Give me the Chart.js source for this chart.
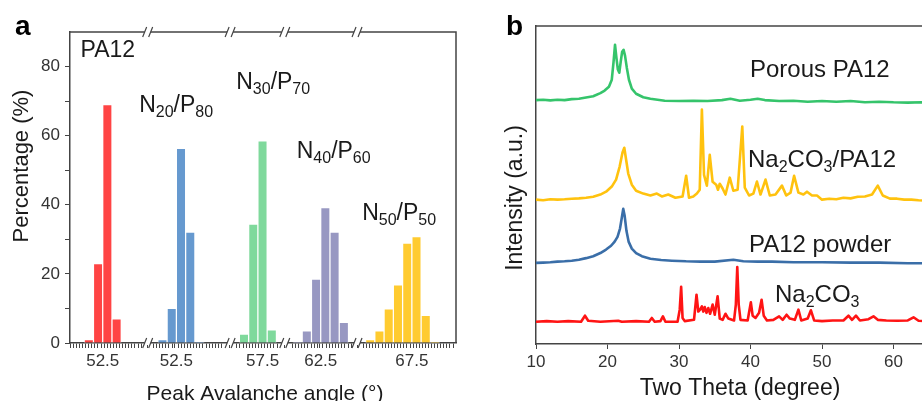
<!DOCTYPE html>
<html>
<head>
<meta charset="utf-8">
<script src="https://cdn.jsdelivr.net/npm/chart.js@4.4.0/dist/chart.umd.min.js"></script>
<style>
  html, body { margin: 0; padding: 0; background: #fff; overflow: hidden; width: 922px; height: 401px; }
  body { position: relative; }
  canvas { position: absolute; top: 0; }
  #chartA { left: 0; }
  #chartB { left: 470px; }
</style>
</head>
<body>
<canvas id="chartA" width="470" height="401"></canvas>
<canvas id="chartB" width="560" height="401"></canvas>
<script>
const FONT = "'Liberation Sans', Arial, sans-serif";
const AXIS = "#444";

// ---------- panel a : peak avalanche angle histograms ----------
const sampleLabels = ["PA12", "N_20/P_80", "N_30/P_70", "N_40/P_60", "N_50/P_50"];
const angPA12 = [51, 52, 53, 54];
const pctPA12 = [1, 23, 69, 7];
const angN20 = [51, 52, 53, 54, 55];
const pctN20 = [1, 10, 56.3, 32.1, 0.3];
const angN30 = [55.5, 56.5, 57.5, 58.5];
const pctN30 = [2.6, 34.4, 58.5, 3.8];
const angN40 = [60, 61, 62, 63, 64, 65];
const pctN40 = [0.3, 3.5, 18.5, 39.2, 32.1, 6];
const angN50 = [63, 64, 65, 66, 67, 68, 69, 70];
const pctN50 = [1, 3.5, 9.9, 16.8, 28.9, 30.8, 8, 0.3];
const tickAngles = [52.5, 52.5, 57.5, 62.5, 67.5];
const tickLabels = ["52.5", "52.5", "57.5", "62.5", "67.5"];

// ---------- panel b : XRD patterns ----------
const porousTheta = [10, 11, 12, 13, 14, 15, 16, 17, 18, 19, 19.6, 20.2, 20.6, 20.85, 21.05, 21.25, 21.45, 21.65, 21.85, 22.05, 22.25, 22.45, 22.7, 23, 23.4, 24, 25, 26, 27, 28, 30, 32, 34, 36, 37.2, 38.5, 40, 41, 42, 44, 46, 48, 50, 52, 54, 56, 58, 60, 62, 64, 66, 68, 70];
const porousInt = [76.7, 76.8, 76.6, 76.8, 76.7, 77.0, 77.1, 77.5, 77.9, 78.9, 79.7, 80.9, 83.1, 88.8, 94.1, 90.0, 86.3, 85.3, 88.8, 91.9, 92.5, 90.7, 86.9, 83.1, 80.3, 78.7, 77.6, 77.1, 76.8, 76.5, 76.4, 76.5, 76.4, 76.7, 77.1, 76.5, 76.8, 77.1, 76.7, 76.4, 76.5, 76.2, 76.4, 76.2, 76.4, 76.0, 76.2, 76.0, 75.9, 76.0, 75.9, 76.0, 75.9];

const compTheta = [10, 11, 12, 13, 14, 15, 16, 17, 18, 19, 19.8, 20.6, 21.2, 21.7, 22.1, 22.35, 22.6, 22.9, 23.4, 24, 25, 26, 26.9, 27.6, 28.5, 29.5, 30.5, 31, 31.4, 32, 32.5, 32.9, 33.2, 33.5, 33.9, 34.3, 34.7, 35.2, 35.45, 35.7, 36.1, 36.5, 37.1, 37.6, 38.2, 38.85, 39.2, 39.8, 40.4, 40.9, 41.4, 42.1, 42.7, 43.5, 44.4, 45, 45.6, 46.1, 46.7, 47.4, 47.9, 48.6, 49.3, 50, 51, 52, 53, 54, 55, 56, 57, 57.8, 58.5, 59.5, 60.5, 61.5, 62.5, 63.5, 65, 67, 70];
const compInt = [45.4, 45.2, 45.5, 45.4, 45.5, 45.7, 45.8, 46.0, 46.3, 47.0, 47.9, 49.5, 51.7, 55.8, 60.2, 61.7, 58.0, 53.6, 50.1, 48.2, 47.3, 46.7, 47.3, 46.4, 47.0, 46.0, 46.4, 52.9, 46.0, 46.4, 47.3, 48.5, 73.7, 53.2, 49.8, 59.5, 51.0, 50.1, 48.5, 50.4, 48.9, 47.0, 52.3, 48.2, 48.5, 68.4, 49.2, 46.7, 47.3, 51.1, 47.0, 51.7, 46.7, 47.0, 49.8, 46.7, 47.6, 52.9, 47.6, 47.0, 47.9, 46.7, 46.7, 45.4, 45.7, 45.5, 46.0, 45.8, 46.3, 46.4, 47.0, 49.8, 46.7, 45.7, 45.7, 45.4, 45.4, 45.2, 45.1, 45.1, 45.1];

const powderTheta = [10, 11, 12, 13, 14, 15, 16, 17, 18, 19, 19.8, 20.5, 21, 21.4, 21.75, 22, 22.2, 22.4, 22.65, 22.95, 23.4, 24, 24.8, 26, 27.5, 29, 31, 33, 35, 37.6, 39, 41, 43, 46, 50, 54, 58, 62, 66, 70];
const powderInt = [25.5, 25.6, 25.7, 25.9, 26.0, 26.2, 26.5, 27.0, 27.6, 28.6, 29.7, 30.9, 32.2, 33.7, 36.3, 39.7, 42.5, 40.3, 35.6, 32.2, 30.0, 28.6, 27.6, 26.8, 26.4, 26.2, 26.0, 25.9, 25.9, 26.5, 26.0, 25.9, 25.9, 25.7, 25.7, 25.6, 25.6, 25.4, 25.4, 25.4];

const carbTheta = [10, 11.5, 13, 14.5, 16.3, 16.85, 17.3, 19, 21.5, 22, 24, 25.8, 26.2, 26.6, 27.4, 27.75, 28.1, 29.8, 30.1, 30.3, 30.5, 30.8, 32.1, 32.45, 32.7, 32.95, 33.2, 33.4, 33.6, 33.85, 34.1, 34.35, 34.7, 35, 35.4, 35.7, 36.1, 36.5, 36.9, 37.7, 37.95, 38.15, 38.35, 38.6, 39.6, 40.05, 40.3, 40.7, 41.2, 41.55, 41.85, 42.3, 43.2, 44, 44.5, 45.05, 45.5, 46.2, 46.7, 47.1, 48, 48.45, 48.9, 50, 51.5, 53, 53.7, 54.2, 54.75, 55.3, 56.5, 57.2, 57.8, 59, 60.5, 62, 62.8, 63.5, 65, 67, 70];
const carbInt = [7.0, 7.2, 7.0, 7.2, 7.0, 8.9, 7.3, 7.0, 7.3, 7.0, 7.2, 7.0, 8.2, 7.0, 7.2, 8.7, 7.0, 7.0, 10.8, 18.0, 8.2, 7.2, 7.6, 15.5, 10.2, 10.8, 11.8, 10.2, 11.6, 9.8, 11.3, 9.5, 12.4, 9.2, 15.0, 8.0, 7.6, 9.5, 8.0, 7.4, 12.4, 24.2, 12.4, 7.6, 7.4, 13.1, 8.9, 8.2, 9.8, 13.9, 8.9, 7.4, 7.6, 8.7, 7.6, 9.2, 8.0, 7.6, 10.8, 7.4, 8.0, 10.6, 7.4, 7.2, 7.4, 7.4, 8.9, 7.6, 8.9, 7.4, 7.8, 8.7, 7.6, 7.4, 7.3, 7.4, 8.4, 7.3, 7.2, 7.2, 7.2];

const xrdNames = ["Porous PA12", "Na_2CO_3/PA12", "PA12 powder", "Na_2CO_3"];

// ---------- layout / style ----------
const A_XMAX = 41.3;                         // broken axis, in bin units
const A_BIN_PX = 386 / A_XMAX;
const groupShift = [-49.15, -41.2, -36.9, -35.62, -30.78];
const breakAt = [8.2, 17.1, 23.0, 30.8];
const MINOR = 1 / 3;
const barColors = ["#ff4444", "#6699cf", "#7fd99c", "#9898c2", "#ffcb30"];
const lineColors = ["#35c46b", "#ffc20e", "#3a6ea8", "#ff1414"];

const groupAngles = [angPA12, angN20, angN30, angN40, angN50];
const groupPcts = [pctPA12, pctN20, pctN30, pctN40, pctN50];
const majorU = tickAngles.map((a, i) => a + groupShift[i]);

// label anchors (left, baseline) in data units
const notesA = [[0.96, 82.7], [7.28, 66.8], [17.76, 73.5], [24.29, 53.5], [31.35, 35.6]];
const notesB = [[39.93, 83.9], [39.65, 55.75], [39.79, 29.0], [43.43, 13.2]];

function drawRich(ctx, str, x, y, size, subSize) {
  const parts = str.split(/(_\d+)/).filter(s => s.length);
  let cx = x;
  ctx.fillStyle = "#1a1a1a";
  ctx.textAlign = "left";
  ctx.textBaseline = "alphabetic";
  parts.forEach(p => {
    const sub = p[0] === "_";
    const t = sub ? p.slice(1) : p;
    ctx.font = (sub ? subSize : size) + "px " + FONT;
    ctx.fillText(t, cx, sub ? y + 5 : y);
    cx += ctx.measureText(t).width;
  });
}

function drawTitle(ctx, text, x, y, size, rotate, weight) {
  ctx.save();
  ctx.translate(x, y);
  if (rotate) ctx.rotate(-Math.PI / 2);
  ctx.font = (weight || "") + " " + size + "px " + FONT;
  ctx.fillStyle = "#1a1a1a";
  ctx.textAlign = "center";
  ctx.textBaseline = "alphabetic";
  ctx.fillText(text, 0, 0);
  ctx.restore();
}

const decorA = {
  id: "decorA",
  afterDraw(chart) {
    const { ctx, chartArea: area, scales } = chart;
    ctx.save();
    ctx.strokeStyle = AXIS;
    ctx.lineWidth = 1.5;
    ctx.beginPath();
    ctx.moveTo(area.left, area.top);
    ctx.lineTo(area.right, area.top);
    ctx.lineTo(area.right, area.bottom);
    ctx.stroke();
    // axis breaks
    breakAt.forEach(b => {
      const px = scales.x.getPixelForValue(b);
      [area.top, area.bottom].forEach(py => {
        ctx.fillStyle = "#fff";
        ctx.fillRect(px - 3, py - 2, 6, 4);
        ctx.strokeStyle = AXIS;
        ctx.lineWidth = 1.2;
        ctx.beginPath();
        ctx.moveTo(px - 5, py + 5); ctx.lineTo(px - 1, py - 5);
        ctx.moveTo(px + 1, py + 5); ctx.lineTo(px + 5, py - 5);
        ctx.stroke();
      });
    });
    notesA.forEach((n, i) => {
      drawRich(ctx, sampleLabels[i], scales.x.getPixelForValue(n[0]), scales.y.getPixelForValue(n[1]), 23, 16);
    });
    drawTitle(ctx, "Percentage (%)", 28, 166, 22, true);
    drawTitle(ctx, "Peak Avalanche angle (°)", 265, 400, 21, false);
    ctx.font = "bold 28px " + FONT;
    ctx.fillStyle = "#000";
    ctx.textAlign = "left";
    ctx.fillText("a", 15, 35);
    ctx.restore();
  }
};

const decorB = {
  id: "decorB",
  afterDraw(chart) {
    const { ctx, chartArea: area, scales } = chart;
    ctx.save();
    ctx.strokeStyle = AXIS;
    ctx.lineWidth = 1.5;
    ctx.beginPath();
    ctx.moveTo(area.left, area.top);
    ctx.lineTo(chart.width, area.top);
    ctx.stroke();
    notesB.forEach((n, i) => {
      drawRich(ctx, xrdNames[i], scales.x.getPixelForValue(n[0]), scales.y.getPixelForValue(n[1]), 24, 16);
    });
    drawTitle(ctx, "Intensity (a.u.)", 52, 198, 23, true);
    drawTitle(ctx, "Two Theta (degree)", 270, 395, 23, false);
    ctx.font = "bold 28px " + FONT;
    ctx.fillStyle = "#000";
    ctx.textAlign = "left";
    ctx.fillText("b", 36, 35);
    ctx.restore();
  }
};

// ---------- chart a ----------
const barData = [];
const barBg = [];
groupAngles.forEach((angs, g) => {
  angs.forEach((a, i) => {
    barData.push({ x: a + groupShift[g], y: groupPcts[g][i] });
    barBg.push(barColors[g]);
  });
});

new Chart(document.getElementById("chartA"), {
  type: "bar",
  data: {
    datasets: [{
      label: "Percentage",
      data: barData,
      backgroundColor: barBg,
      borderColor: "#ffffff",
      borderWidth: 1,
      borderSkipped: "start",
      barThickness: A_BIN_PX,
    }],
  },
  options: {
    responsive: false,
    animation: false,
    devicePixelRatio: 1,
    layout: { padding: { left: 0, top: 32, right: 14, bottom: 0 } },
    plugins: { legend: { display: false }, tooltip: { enabled: false } },
    scales: {
      x: {
        type: "linear",
        min: 0,
        max: A_XMAX,
        afterBuildTicks(scale) {
          const t = [];
          for (let i = 0; i * MINOR <= A_XMAX; i++) {
            const v = i * MINOR;
            if (breakAt.some(b => Math.abs(v - b) < 0.45)) continue;
            if (majorU.some(m => Math.abs(v - m) < MINOR / 2)) continue;
            t.push({ value: v });
          }
          majorU.forEach(m => t.push({ value: m }));
          t.sort((p, q) => p.value - q.value);
          scale.ticks = t;
        },
        afterFit(scale) { scale.height = 58; },
        grid: { drawOnChartArea: false, color: AXIS, tickLength: 5, tickWidth: 1 },
        border: { color: AXIS, width: 1.5 },
        ticks: {
          autoSkip: false,
          maxRotation: 0,
          padding: 3,
          color: "#333",
          font: { family: FONT, size: 17 },
          callback(value) {
            const k = majorU.findIndex(m => Math.abs(m - value) < 1e-6);
            return k >= 0 ? tickLabels[k] : "";
          },
        },
      },
      y: {
        min: 0,
        max: 90,
        afterBuildTicks(scale) {
          scale.ticks = [0, 10, 20, 30, 40, 50, 60, 70, 80].map(v => ({ value: v }));
        },
        afterFit(scale) { scale.width = 70; },
        grid: { drawOnChartArea: false, color: AXIS, tickLength: 5 },
        border: { color: AXIS, width: 1.5 },
        ticks: {
          padding: 5,
          color: "#333",
          font: { family: FONT, size: 17 },
          callback(value) { return value % 20 === 0 ? String(value) : ""; },
        },
      },
    },
  },
  plugins: [decorA],
});

// ---------- chart b ----------
const xrdSets = [[porousTheta, porousInt], [compTheta, compInt], [powderTheta, powderInt], [carbTheta, carbInt]];

new Chart(document.getElementById("chartB"), {
  type: "line",
  data: {
    datasets: xrdSets.map((s, i) => ({
      label: xrdNames[i],
      data: s[0].map((t, j) => ({ x: t, y: s[1][j] })),
      borderColor: lineColors[i],
      borderWidth: 2.6,
      borderJoinStyle: "round",
      pointRadius: 0,
      tension: 0,
      fill: false,
    })),
  },
  options: {
    responsive: false,
    animation: false,
    devicePixelRatio: 1,
    layout: { padding: { left: 0, top: 26, right: 65, bottom: 0 } },
    plugins: { legend: { display: false }, tooltip: { enabled: false } },
    scales: {
      x: {
        type: "linear",
        min: 10,
        max: 70,
        afterFit(scale) { scale.height = 57; },
        grid: { drawOnChartArea: false, color: AXIS, tickLength: 5 },
        border: { color: AXIS, width: 1.5 },
        ticks: { stepSize: 10, padding: 3, maxRotation: 0, color: "#333", font: { family: FONT, size: 17 } },
      },
      y: {
        min: 0,
        max: 100,
        afterFit(scale) { scale.width = 66; },
        grid: { display: false },
        border: { color: AXIS, width: 1.5 },
        ticks: { display: false },
      },
    },
  },
  plugins: [decorB],
});
</script>
</body>
</html>
